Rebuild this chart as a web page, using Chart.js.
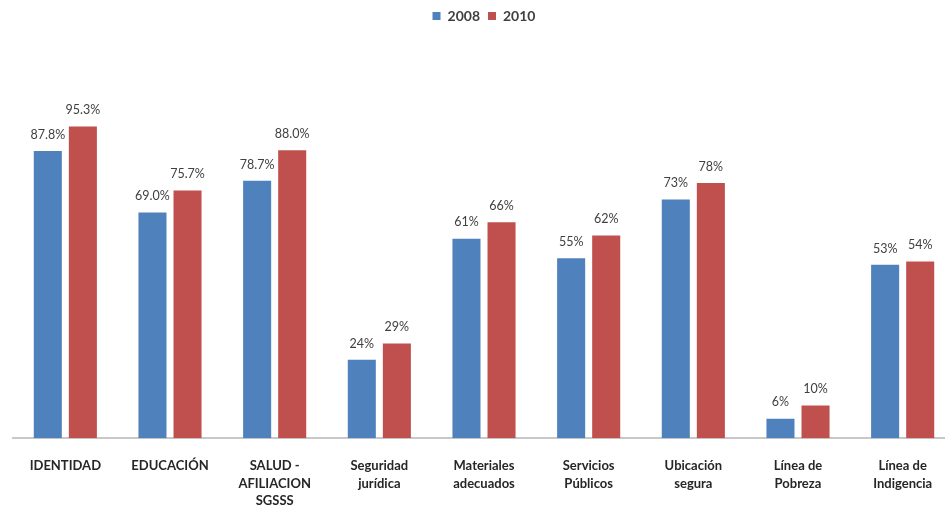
<!DOCTYPE html>
<html>
<head>
<meta charset="utf-8">
<script src="https://cdn.jsdelivr.net/npm/chart.js@4/dist/chart.umd.min.js"></script>
<style>
  html, body { margin: 0; padding: 0; background: #fff; overflow: hidden; }
  #wrap { width: 955px; height: 508px; }
</style>
</head>
<body>
<div id="wrap"><canvas id="grafico"></canvas></div>
<script>
// datos
const categorias = [
  'IDENTIDAD', 'EDUCACIÓN', ['SALUD -', 'AFILIACION', 'SGSSS'], ['Seguridad', 'jurídica'],
  ['Materiales', 'adecuados'], ['Servicios', 'Públicos'], ['Ubicación', 'segura'],
  ['Línea de', 'Pobreza'], ['Línea de', 'Indigencia']
];
const serie2008 = [87.8, 69.0, 78.7, 24, 61, 55, 73, 6, 53];
const serie2010 = [95.3, 75.7, 88.0, 29, 66, 62, 78, 10, 54];
const etiquetas2008 = ['87.8%', '69.0%', '78.7%', '24%', '61%', '55%', '73%', '6%', '53%'];
const etiquetas2010 = ['95.3%', '75.7%', '88.0%', '29%', '66%', '62%', '78%', '10%', '54%'];
const etiquetas = [etiquetas2008, etiquetas2010];

// espacio bajo la leyenda
const margenLeyenda = {
  id: 'margenLeyenda',
  beforeInit(chart) {
    const fit = chart.legend.fit;
    chart.legend.fit = function () {
      fit.bind(chart.legend)();
      this.height += 78;
    };
  }
};

// etiquetas encima de cada barra
const valoresBarras = {
  id: 'valoresBarras',
  afterDatasetsDraw(chart) {
    const ctx = chart.ctx;
    ctx.save();
    ctx.font = '12.5px Lato, "Open Sans", sans-serif';
    ctx.fillStyle = '#404040';
    ctx.textAlign = 'center';
    ctx.textBaseline = 'bottom';
    chart.data.datasets.forEach((ds, i) => {
      chart.getDatasetMeta(i).data.forEach((bar, j) => {
        ctx.fillText(etiquetas[i][j], bar.x, bar.y - 10);
      });
    });
    ctx.restore();
  }
};

new Chart(document.getElementById('grafico'), {
  type: 'bar',
  data: {
    labels: categorias,
    datasets: [
      { label: '2008', data: serie2008, backgroundColor: '#4F81BD', borderWidth: 0 },
      { label: '2010', data: serie2010, backgroundColor: '#C0504D', borderWidth: 0 }
    ]
  },
  options: {
    responsive: true,
    maintainAspectRatio: false,
    animation: false,
    categoryPercentage: 0.67,
    barPercentage: 0.8,
    layout: { padding: { left: 13, right: 0, top: 1, bottom: -21 } },
    plugins: {
      tooltip: { enabled: false },
      legend: {
        position: 'top',
        labels: {
          boxWidth: 8,
          boxHeight: 8,
          padding: 8,
          color: '#404040',
          font: { family: 'Lato, "Open Sans", sans-serif', size: 14, weight: 'bold' }
        }
      }
    },
    scales: {
      x: {
        grid: { display: false, drawTicks: false },
        border: { display: true, color: '#c8c8c8', width: 2 },
        ticks: {
          color: '#262626',
          padding: 19,
          maxRotation: 0,
          autoSkip: false,
          font: { family: 'Lato, "Open Sans", sans-serif', size: 13, weight: 'bold', lineHeight: 1.35 }
        }
      },
      y: {
        display: false,
        min: 0,
        max: 100
      }
    }
  },
  plugins: [margenLeyenda, valoresBarras]
});
</script>
</body>
</html>
